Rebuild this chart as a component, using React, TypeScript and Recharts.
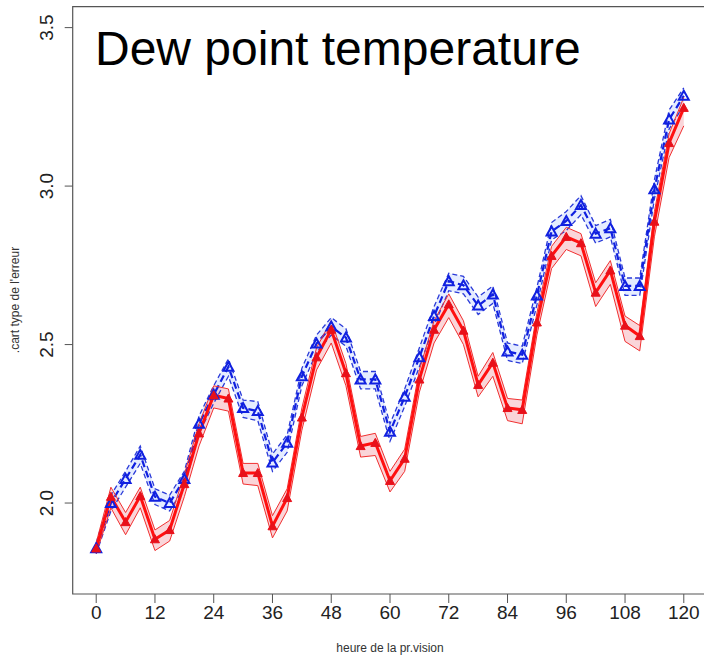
import React from 'react';
import { ComposedChart, Area, Line, XAxis, YAxis, ReferenceArea } from 'recharts';

// forecast lead time (hours)
const hours = [0, 3, 6, 9, 12, 15, 18, 21, 24, 27, 30, 33, 36, 39, 42, 45, 48, 51, 54, 57, 60,
  63, 66, 69, 72, 75, 78, 81, 84, 87, 90, 93, 96, 99, 102, 105, 108, 111, 114, 117, 120];

const redMean = [1.857, 2.02, 1.94, 2.022, 1.886, 1.915, 2.06, 2.22, 2.34, 2.33, 2.095, 2.095, 1.927, 2.016,
  2.27, 2.46, 2.547, 2.41, 2.18, 2.19, 2.07, 2.14, 2.39, 2.547, 2.627, 2.544, 2.373, 2.443, 2.3, 2.294,
  2.57, 2.78, 2.84, 2.82, 2.664, 2.734, 2.56, 2.527, 2.888, 3.136, 3.247];
const redLow = [1.84, 1.985, 1.9, 1.985, 1.85, 1.88, 2.02, 2.18, 2.3, 2.29, 2.06, 2.055, 1.89, 1.975,
  2.23, 2.42, 2.505, 2.37, 2.145, 2.15, 2.035, 2.1, 2.35, 2.505, 2.585, 2.5, 2.335, 2.4, 2.26, 2.25,
  2.53, 2.74, 2.8, 2.78, 2.62, 2.69, 2.51, 2.48, 2.84, 3.09, 3.19];
const redHigh = [1.875, 2.05, 1.97, 2.05, 1.915, 1.945, 2.09, 2.25, 2.37, 2.36, 2.125, 2.125, 1.96, 2.045,
  2.3, 2.49, 2.575, 2.44, 2.21, 2.22, 2.1, 2.17, 2.42, 2.575, 2.66, 2.575, 2.4, 2.475, 2.33, 2.325,
  2.6, 2.81, 2.87, 2.85, 2.695, 2.765, 2.59, 2.56, 2.92, 3.165, 3.28];

const blueMean = [1.857, 2.0, 2.076, 2.152, 2.02, 2.0, 2.076, 2.25, 2.342, 2.43, 2.3, 2.29, 2.128, 2.19,
  2.4, 2.503, 2.557, 2.522, 2.39, 2.39, 2.225, 2.335, 2.46, 2.59, 2.7, 2.687, 2.623, 2.658, 2.478, 2.468,
  2.655, 2.857, 2.89, 2.94, 2.85, 2.867, 2.685, 2.685, 2.99, 3.21, 3.285];
const blueLow = [1.84, 1.975, 2.05, 2.125, 1.995, 1.975, 2.05, 2.22, 2.315, 2.4, 2.27, 2.26, 2.1, 2.16,
  2.37, 2.475, 2.53, 2.495, 2.36, 2.36, 2.195, 2.305, 2.43, 2.56, 2.67, 2.66, 2.595, 2.63, 2.45, 2.44,
  2.625, 2.83, 2.86, 2.91, 2.82, 2.84, 2.655, 2.655, 2.96, 3.18, 3.255];
const blueHigh = [1.875, 2.025, 2.1, 2.18, 2.045, 2.025, 2.1, 2.275, 2.37, 2.455, 2.325, 2.32, 2.155, 2.215,
  2.425, 2.53, 2.585, 2.55, 2.415, 2.415, 2.25, 2.36, 2.49, 2.62, 2.725, 2.715, 2.65, 2.685, 2.505, 2.495,
  2.68, 2.885, 2.92, 2.97, 2.875, 2.895, 2.71, 2.71, 3.02, 3.24, 3.31];

const xTicks = [0, 12, 24, 36, 48, 60, 72, 84, 96, 108, 120];
const yTicks = [2.0, 2.5, 3.0, 3.5];

const X_DOMAIN: [number, number] = [-4.8, 124.8];
const Y_DOMAIN: [number, number] = [1.713, 3.566];

const FONT = '"Liberation Sans", Arial, sans-serif';

const data = hours.map((h, i) => ({
  h,
  red: redMean[i],
  redLow: redLow[i],
  redHigh: redHigh[i],
  redBand: [redLow[i], redHigh[i]],
  blue: blueMean[i],
  blueLow: blueLow[i],
  blueHigh: blueHigh[i],
  blueBand: [blueLow[i], blueHigh[i]],
}));

const triPath = (cx: number, cy: number, r: number) =>
  `M${cx},${cy - r} L${cx + r},${cy + r * 0.8} L${cx - r},${cy + r * 0.8} Z`;

const RedDot = (props: any) => {
  const { cx, cy, index } = props;
  if (cx == null || cy == null) return null;
  return <path key={`r${index}`} d={triPath(cx, cy, 4.5)} fill="#e8101a" stroke="#e8101a" strokeWidth={1} />;
};

const BlueDot = (props: any) => {
  const { cx, cy, index } = props;
  if (cx == null || cy == null) return null;
  return <path key={`b${index}`} d={triPath(cx, cy, 5)} fill="none" stroke="#1020e0" strokeWidth={2} />;
};

const YTick = (props: any) => {
  const { x, y, payload } = props;
  const bx = x - 10;
  return (
    <text x={bx} y={y} transform={`rotate(-90, ${bx}, ${y})`} textAnchor="middle"
      fontSize={19} fontFamily={FONT} fill="#222">
      {Number(payload.value).toFixed(1)}
    </text>
  );
};

export default function App() {
  return (
    <div style={{ position: 'absolute', left: 0, top: 0, width: 704, height: 656, overflow: 'hidden', background: '#fff' }}>
      <ComposedChart width={712} height={656} data={data}
        margin={{ top: 6.7, right: 4.7, left: 0, bottom: 0 }}>
        <XAxis dataKey="h" type="number" domain={X_DOMAIN} ticks={xTicks} allowDataOverflow
          axisLine={false} tickSize={9} tickMargin={3} height={62} stroke="#555"
          tick={{ fontSize: 19, fontFamily: FONT, fill: '#222' }} interval={0} />
        <YAxis type="number" domain={Y_DOMAIN} ticks={yTicks} allowDataOverflow width={72.7}
          axisLine={false} tickSize={8} tickMargin={2} stroke="#555" tick={YTick} interval={0} />

        <Area dataKey="blueBand" fill="#cfdcff" fillOpacity={0.55} stroke="none" isAnimationActive={false} />
        <Area dataKey="redBand" fill="#f7b9c0" fillOpacity={0.6} stroke="none" isAnimationActive={false} />

        <Line dataKey="blueLow" stroke="#2a3ad8" strokeWidth={1.3} strokeDasharray="5 3" dot={false} isAnimationActive={false} />
        <Line dataKey="blueHigh" stroke="#2a3ad8" strokeWidth={1.3} strokeDasharray="5 3" dot={false} isAnimationActive={false} />
        <Line dataKey="blue" stroke="#1020e0" strokeWidth={2.2} strokeDasharray="7 4" dot={BlueDot} isAnimationActive={false} />

        <Line dataKey="redLow" stroke="#f03030" strokeWidth={1} dot={false} isAnimationActive={false} />
        <Line dataKey="redHigh" stroke="#f03030" strokeWidth={1} dot={false} isAnimationActive={false} />
        <Line dataKey="red" stroke="#ff1010" strokeWidth={3} dot={RedDot} isAnimationActive={false} />

        <ReferenceArea x1={X_DOMAIN[0]} x2={X_DOMAIN[1]} y1={Y_DOMAIN[0]} y2={Y_DOMAIN[1]}
          fill="none" stroke="#555" strokeWidth={1.2} ifOverflow="visible" />

        <text x={95} y={65} fontSize={48} fontFamily={FONT} fill="#000">Dew point temperature</text>
        <text x={19} y={300} transform="rotate(-90, 19, 300)" textAnchor="middle" fontSize={12}
          fontFamily={FONT} fill="#333">.cart type de l'erreur</text>
        <text x={390} y={652} textAnchor="middle" fontSize={12} fontFamily={FONT} fill="#333">heure de la pr.vision</text>
      </ComposedChart>
    </div>
  );
}
